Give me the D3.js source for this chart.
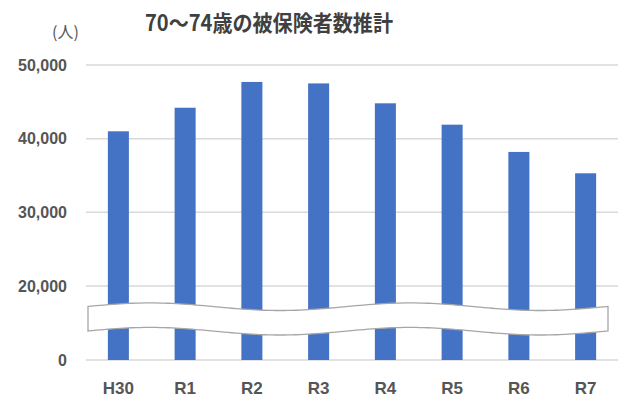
<!DOCTYPE html>
<html>
<head>
<meta charset="utf-8">
<script src="https://cdn.jsdelivr.net/npm/d3@7"></script>
<style>
  body { margin: 0; background: #fff; }
  text { font-family: "Liberation Sans", Arial, sans-serif; }
  .title, .unit { font-family: "Noto Sans CJK JP", sans-serif; }
</style>
</head>
<body>
<svg id="chart"></svg>
<script>
// data
const years = ['H30', 'R1', 'R2', 'R3', 'R4', 'R5', 'R6', 'R7'];
const insured = [41000, 44200, 47700, 47500, 44800, 41900, 38200, 35300];
const tickValues = [0, 20000, 30000, 40000, 50000];

const width = 621, height = 400;
const margin = {top: 65, right: 2, bottom: 40, left: 85};

const svg = d3.select('#chart')
  .attr('width', width)
  .attr('height', height);

// x: one band per year
const x = d3.scaleBand()
  .domain(years)
  .range([margin.left, width - margin.right])
  .paddingInner(0.685)
  .paddingOuter(0.3425);

// y: broken axis, 0-20,000 squeezed into one tick step
const y = d3.scaleLinear()
  .domain([0, 20000, 50000])
  .range([360, 286, 65]);

// gridlines
svg.append('g')
  .selectAll('line')
  .data(tickValues)
  .join('line')
  .attr('x1', 86)
  .attr('x2', 618)
  .attr('y1', d => y(d))
  .attr('y2', d => y(d))
  .attr('stroke', '#d9d9d9')
  .attr('stroke-width', 1.5);

// y tick labels
const yAxis = d3.axisLeft(y)
  .tickValues(tickValues)
  .tickFormat(d3.format(','))
  .tickSize(0)
  .tickPadding(0);

svg.append('g')
  .attr('transform', 'translate(67,0)')
  .call(yAxis)
  .call(g => g.select('.domain').remove())
  .call(g => g.selectAll('text')
    .attr('fill', '#555')
    .attr('font-size', 16)
    .attr('font-weight', 'bold')
    .attr('font-family', '"Liberation Sans", Arial, sans-serif'));

// bars
svg.append('g')
  .selectAll('rect')
  .data(years)
  .join('rect')
  .attr('x', d => x(d))
  .attr('width', x.bandwidth())
  .attr('y', (d, i) => y(insured[i]))
  .attr('height', (d, i) => y(0) - y(insured[i]))
  .attr('fill', '#4472c4');

// x labels
const xAxis = d3.axisBottom(x).tickSize(0).tickPadding(0);
svg.append('g')
  .attr('transform', 'translate(0,382)')
  .call(xAxis)
  .call(g => g.select('.domain').remove())
  .call(g => g.selectAll('text')
    .attr('fill', '#555')
    .attr('font-size', 17)
    .attr('font-weight', 'bold')
    .attr('font-family', '"Liberation Sans", Arial, sans-serif'));

// axis break band (wavy)
const bx0 = 88, bx1 = 609;
const wave = xx => y(14400) - 3.8 * Math.cos(2 * Math.PI * (xx - 150) / 260);
const bandH = 24.5;
const xs = d3.range(bx0, bx1 + 1, 4);
const upperEdge = xs.map(xx => [xx, wave(xx)]);
const lowerEdge = xs.slice().reverse().map(xx => [xx, wave(xx) + bandH]);
svg.append('path')
  .attr('d', d3.line()(upperEdge.concat(lowerEdge)) + 'Z')
  .attr('fill', '#fff')
  .attr('stroke', '#a6a6a6')
  .attr('stroke-width', 1.3);

// title and unit
svg.append('text')
  .attr('class', 'title')
  .attr('x', 145)
  .attr('y', 31)
  .attr('textLength', 248)
  .attr('lengthAdjust', 'spacingAndGlyphs')
  .attr('font-size', 22)
  .attr('font-weight', 'bold')
  .attr('fill', '#404040')
  .text('70～74歳の被保険者数推計');

svg.append('text')
  .attr('class', 'unit')
  .attr('x', 52)
  .attr('y', 38)
  .attr('font-size', 16)
  .attr('fill', '#555')
  .text('(人)');
</script>
</body>
</html>
